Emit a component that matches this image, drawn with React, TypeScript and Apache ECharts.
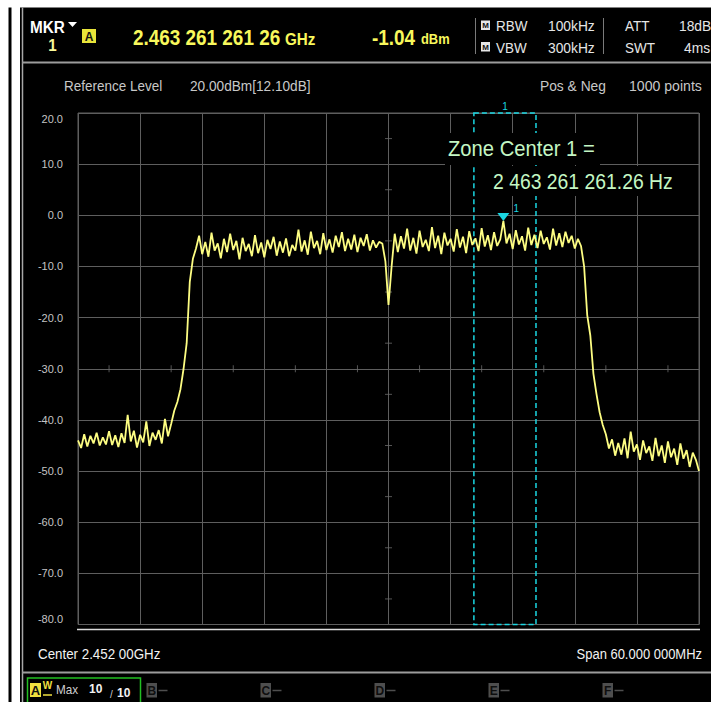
import React, { useEffect, useRef } from "react";
import * as echarts from "echarts";

// Y axis (dBm) range / ticks
const yMin = -80;
const yMax = 20;
const yStep = 10;

// Trace segments (dBm), 201 points across 60 MHz span
const leftFloor = [
  -44.0, -45.5, -42.8, -45.2, -43.1, -44.6, -42.5, -45.0, -43.4, -44.8,
  -42.2, -44.9, -43.0, -45.3, -42.6, -44.5, -39.0, -44.2, -42.1, -45.4,
  -42.9, -44.4, -40.3, -45.1, -42.5, -43.9, -42.0, -44.6, -39.8, -43.2,
];
const riseEdge = [-40.8, -38.2, -36.5, -34.0, -30.0, -25.0, -13.0, -8.5];
const leftBand = [
  -6.5, -4.0, -7.6, -5.2, -8.1, -3.4, -6.9, -5.5, -8.4, -4.6,
  -7.2, -3.6, -6.8, -5.0, -8.6, -4.4, -7.0, -5.6, -8.0, -3.9,
  -7.4, -5.3, -8.2, -4.8, -6.6, -4.2, -7.9, -5.1, -7.3, -4.5,
  -8.0, -5.8, -6.9, -2.8, -7.1, -4.9, -7.7, -3.2, -6.4, -5.0,
  -7.6, -3.5, -6.8, -4.7, -7.3, -4.0, -6.2, -3.3, -7.0, -4.6,
  -6.7, -3.8, -7.2, -4.4, -6.0, -3.7, -6.9, -4.9, -6.3, -5.2,
  -5.5,
];
const centerDip = [-9.0, -17.5, -10.0];
const rightBand = [
  -3.6, -7.2, -4.1, -6.5, -2.6, -6.9, -4.4, -7.5, -3.0, -6.2,
  -4.8, -7.0, -2.3, -6.4, -4.0, -7.6, -3.4, -5.9, -4.6, -7.1,
  -2.7, -6.3, -4.2, -7.4, -3.1, -5.8, -4.5, -7.0, -2.5, -6.1,
  -3.9, -6.8, -3.3, -6.0, -4.7, -1.1, -5.5, -3.6, -6.6, -2.9,
  -5.7, -4.1, -6.9, -2.4, -5.8, -3.8, -6.4, -3.0, -5.6, -4.3,
  -6.7, -2.6, -5.9, -3.5, -6.2, -3.2, -5.4, -4.0, -6.5, -4.6,
];
const fallEdge = [-6.0, -10.0, -19.5, -23.5, -31.0, -35.0, -38.5, -41.0, -42.8];
const rightFloor = [
  -45.6, -43.8, -47.0, -44.5, -46.8, -43.6, -47.5, -42.3, -46.2, -44.8,
  -47.8, -44.0, -46.5, -45.2, -48.0, -43.5, -47.1, -45.0, -48.4, -44.2,
  -47.3, -45.6, -48.8, -44.6, -47.6, -45.9, -49.2, -46.4, -47.8, -50.0,
];
const trace = [
  ...leftFloor, ...riseEdge, ...leftBand, ...centerDip,
  ...rightBand, ...fallEdge, ...rightFloor,
];

// Marker / zone (point index)
const markerIndex = 137;
const zoneStart = 127.5;
const zoneEnd = 147.5;

// Centre cross-hair minor ticks
const crossTicksX = [10, 30, 50, 70, 90, 110, 130, 150, 170, 190];
const crossTicksY = [15, 5, -5, -15, -25, -35, -45, -55, -65, -75];
const centerIndex = 100;
const centerLevel = -30;

// Texts
const headerFreq = "2.463 261 261 26";
const headerAmp = "-1.04";
const zoneLine1 = "Zone Center 1 =";
const zoneLine2 = "2 463 261 261.26 Hz";
const centerText = "Center 2.452 00GHz";
const spanText = "Span 60.000 000MHz";
const traceTabs = ["B", "C", "D", "E", "F"];

const FONT = "'Liberation Sans', Arial, sans-serif";
const GRID = "#5e5e5e";
const CYAN = "#1ad6e2";
const YEL = "#f8f85c";

type TOpt = { bold?: boolean; sx?: number; align?: string; weight?: string };
const txt = (text: string, x: number, y: number, size: number, color: string, o: TOpt = {}) => ({
  type: "text",
  x,
  y,
  z: 100,
  scaleX: o.sx ?? 0.92,
  silent: true,
  style: {
    text,
    fontSize: size,
    fontFamily: FONT,
    fontWeight: o.weight ?? (o.bold ? "bold" : "normal"),
    fill: color,
    align: o.align ?? "left",
    verticalAlign: "middle",
  },
});
const rect = (x: number, y: number, w: number, h: number, style: any) => ({
  type: "rect",
  z: 99,
  silent: true,
  shape: { x, y, width: w, height: h },
  style,
});
const hline = (x1: number, y1: number, x2: number, y2: number, stroke: string, lw: number) => ({
  type: "line",
  z: 99,
  silent: true,
  shape: { x1, y1, x2, y2 },
  style: { stroke, lineWidth: lw },
});

function buildGraphic() {
  const g: any[] = [];
  // page margins / frame
  g.push(rect(0, 0, 711, 7.5, { fill: "#ffffff" }));
  g.push(rect(0, 0, 8.5, 702, { fill: "#ffffff" }));
  g.push(rect(11.5, 0, 8.5, 702, { fill: "#ffffff" }));
  g.push(hline(22.5, 7.5, 22.5, 702, "#a8a8a8", 1.5));
  // header
  g.push(txt("MKR", 30, 27, 17, "#ffffff", { bold: true, sx: 0.9 }));
  g.push({
    type: "polygon", z: 100, silent: true,
    shape: { points: [[68, 22], [77, 22], [72.5, 27]] },
    style: { fill: "#ffffff" },
  });
  g.push(txt("1", 52.5, 45, 16, "#fafa9a", { bold: true, align: "center", sx: 0.95 }));
  g.push(rect(82, 29, 14, 14, { fill: "#e8e43a" }));
  g.push(txt("A", 89, 36.5, 12, "#111111", { bold: true, align: "center", sx: 1 }));
  g.push(txt(headerFreq, 133, 37, 22, YEL, { bold: true, sx: 0.86 }));
  g.push(txt("GHz", 285, 39.5, 16, YEL, { bold: true, sx: 0.95 }));
  g.push(txt(headerAmp, 372, 37, 22, YEL, { bold: true, sx: 0.86 }));
  g.push(txt("dBm", 421, 39.5, 14, YEL, { bold: true, sx: 0.92 }));
  g.push(hline(475.5, 18, 475.5, 54, "#7a7a7a", 1));
  g.push(hline(603.5, 18, 603.5, 54, "#7a7a7a", 1));
  [20.5, 42].forEach((yy) => {
    g.push(rect(481, yy, 9, 9.5, { fill: "#e6e6e6" }));
    g.push(txt("M", 485.5, yy + 5, 8, "#111111", { bold: true, align: "center", sx: 1 }));
  });
  const hc = "#e6e6e6";
  g.push(txt("RBW", 496, 25.5, 15, hc, { sx: 0.9 }));
  g.push(txt("VBW", 496, 47.5, 15, hc, { sx: 0.9 }));
  g.push(txt("100kHz", 548, 25.5, 15, hc, { sx: 0.92 }));
  g.push(txt("300kHz", 548, 47.5, 15, hc, { sx: 0.92 }));
  g.push(txt("ATT", 625, 25.5, 15, hc, { sx: 0.9 }));
  g.push(txt("SWT", 625, 47.5, 15, hc, { sx: 0.9 }));
  g.push(txt("18dB", 679, 25.5, 15, hc, { sx: 0.92 }));
  g.push(txt("4ms", 684, 47.5, 15, hc, { sx: 0.92 }));
  g.push(hline(22, 62.5, 711, 62.5, "#9c9c9c", 2));
  // info row
  const ic = "#c8c8c8";
  g.push(txt("Reference Level", 64, 86, 15, ic, { sx: 0.9 }));
  g.push(txt("20.00dBm[12.10dB]", 190, 86, 15, ic, { sx: 0.91 }));
  g.push(txt("Pos & Neg", 540, 86, 15, ic, { sx: 0.92 }));
  g.push(txt("1000 points", 629, 86, 15, ic, { sx: 0.94 }));
  // zone centre annotation
  g.push(rect(445, 133, 155, 32, { fill: "#000000" }));
  g.push(rect(480, 166, 203, 30, { fill: "#000000" }));
  g.push(txt(zoneLine1, 448, 148, 22, "#c4f7c4", { sx: 0.92, weight: "500" }));
  g.push(txt(zoneLine2, 493, 181, 22, "#c4f7c4", { sx: 0.88, weight: "500" }));
  // bottom
  g.push(hline(77, 629.5, 700, 629.5, "#dcdcdc", 1.5));
  g.push(txt(centerText, 38, 654, 15, "#f2f2f2", { sx: 0.89 }));
  g.push(txt(spanText, 702, 654, 15, "#f2f2f2", { sx: 0.865, align: "right" }));
  g.push(hline(22, 672.5, 711, 672.5, "#9c9c9c", 2));
  g.push(rect(27.5, 678, 113, 30, { fill: "none", stroke: "#22c022", lineWidth: 1.5 }));
  g.push(rect(30, 683, 11, 14, { fill: "#f0e040" }));
  g.push(txt("A", 35.5, 690.5, 13, "#111111", { bold: true, align: "center", sx: 1 }));
  g.push(txt("W", 47.5, 685.5, 10, "#f0e040", { bold: true, align: "center", sx: 1 }));
  g.push(hline(43, 695, 52, 695, "#f0e040", 1.5));
  g.push(txt("Max", 56, 690, 13, "#cfcfcf", { sx: 0.9 }));
  g.push(txt("10", 89, 689, 12, "#f2f2f2", { bold: true, sx: 1 }));
  g.push(txt("/", 110, 694, 10, "#cfcfcf", { sx: 1 }));
  g.push(txt("10", 117, 693, 12, "#f2f2f2", { bold: true, sx: 1 }));
  traceTabs.forEach((L, k) => {
    const x = 146.5 + k * 114;
    g.push(rect(x, 683, 10.5, 14.5, { fill: "#4e4e4e" }));
    g.push(txt(L, x + 5.25, 690.5, 12, "#0e0e0e", { bold: true, align: "center", sx: 1 }));
    g.push(hline(x + 12, 690.5, x + 21, 690.5, "#4e4e4e", 1.5));
  });
  return g;
}

const option: any = {
  animation: false,
  backgroundColor: "#000000",
  grid: {
    left: 78, top: 113, width: 621, height: 511.5,
    show: true, borderColor: GRID, borderWidth: 1, backgroundColor: "transparent",
  },
  xAxis: {
    type: "value", min: 0, max: trace.length - 1, interval: 20,
    axisLine: { show: false }, axisTick: { show: false }, axisLabel: { show: false },
    splitLine: { show: true, lineStyle: { color: GRID, width: 1 } },
  },
  yAxis: {
    type: "value", min: yMin, max: yMax, interval: yStep,
    axisLine: { show: false }, axisTick: { show: false },
    axisLabel: {
      color: "#c4c4c4", fontSize: 11, fontFamily: FONT, margin: 15,
      formatter: (v: number) => v.toFixed(1),
      verticalAlignMaxLabel: "top",
      verticalAlignMinLabel: "bottom",
    },
    splitLine: { show: true, lineStyle: { color: GRID, width: 1 } },
  },
  series: [
    {
      type: "line",
      data: trace.map((v, i) => [i, v]),
      showSymbol: false,
      symbol: "none",
      lineStyle: { color: "#fdfd82", width: 1.8 },
      z: 5,
      silent: true,
      markArea: {
        silent: true,
        itemStyle: {
          color: "rgba(0,0,0,0)", borderColor: CYAN, borderWidth: 1.5, borderType: [5, 3],
        },
        label: { show: true, position: "top", distance: 1, formatter: "1", color: CYAN, fontSize: 10, fontFamily: FONT },
        data: [[{ xAxis: zoneStart, yAxis: yMax }, { xAxis: zoneEnd, yAxis: yMin }]],
      },
      markPoint: {
        silent: true,
        symbol: "triangle",
        symbolRotate: 180,
        symbolSize: [12, 8],
        symbolOffset: [0, -4],
        itemStyle: { color: CYAN },
        label: { show: true, position: "right", distance: 4, offset: [0, -8], formatter: "1", color: CYAN, fontSize: 10, fontFamily: FONT },
        data: [{ coord: [markerIndex, trace[markerIndex]] }],
      },
    },
    {
      type: "scatter", silent: true, z: 1,
      data: crossTicksX.map((x) => [x, centerLevel]),
      symbol: "rect", symbolSize: [1, 7],
      itemStyle: { color: "#6a6a6a" },
    },
    {
      type: "scatter", silent: true, z: 1,
      data: crossTicksY.map((y) => [centerIndex, y]),
      symbol: "rect", symbolSize: [7, 1],
      itemStyle: { color: "#6a6a6a" },
    },
  ],
  graphic: buildGraphic(),
};

export default function App() {
  const ref = useRef<HTMLDivElement>(null);
  useEffect(() => {
    const chart = echarts.init(ref.current!, null, { renderer: "svg" });
    chart.setOption(option);
    return () => chart.dispose();
  }, []);
  return (
    <div
      ref={ref}
      style={{ position: "absolute", left: 0, top: 0, width: 711, height: 702 }}
    />
  );
}
